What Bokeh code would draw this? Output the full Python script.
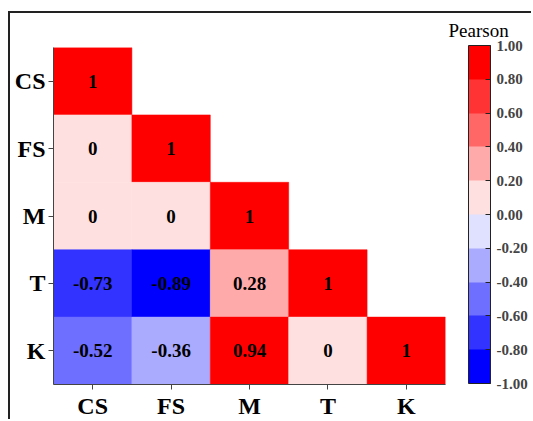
from bokeh.plotting import figure
from bokeh.models import ColumnDataSource, LinearColorMapper, ColorBar, FixedTicker, PrintfTickFormatter, Title
from bokeh.transform import transform
from bokeh.core.properties import value
from bokeh.embed import file_html
from bokeh.resources import INLINE

# Variables of the correlation matrix
variables = ["CS", "FS", "M", "T", "K"]

# Lower triangle of the Pearson correlation matrix, row by row
corr_rows = [
    [1],
    [0, 1],
    [0, 0, 1],
    [-0.73, -0.89, 0.28, 1],
    [-0.52, -0.36, 0.94, 0, 1],
]

# Colour bar ticks
bar_ticks = [-1.0, -0.8, -0.6, -0.4, -0.2, 0.0, 0.2, 0.4, 0.6, 0.8, 1.0]

# Ten discrete bins from -1 (blue) to 1 (red)
palette = ["#0000FF", "#3333FF", "#6E6EFF", "#AAAAFF", "#E0E0FF",
           "#FFE0E0", "#FFAAAA", "#FF6666", "#FF3333", "#FF0000"]

FONT = "Liberation Serif"


def fmt(v):
    return str(int(v)) if float(v).is_integer() else f"{v:.2f}"


xs, ys, rs, labels = [], [], [], []
for i, row in enumerate(corr_rows):
    for j, r in enumerate(row):
        xs.append(variables[j])
        ys.append(variables[i])
        rs.append(r)
        labels.append(fmt(r))

source = ColumnDataSource(dict(x=xs, y=ys, r=rs, label=labels))
mapper = LinearColorMapper(palette=palette, low=-1, high=1)

p = figure(
    width=523, height=408,
    x_range=variables, y_range=list(reversed(variables)),
    min_border_left=43, min_border_right=88,
    min_border_top=34, min_border_bottom=34,
    toolbar_location=None, output_backend="svg",
)
p.styles = {
    "margin-left": "8px", "margin-top": "11px",
    "border-left": "2px solid #222222", "border-top": "2px solid #222222",
}

p.rect(x="x", y="y", width=1, height=1, source=source,
       fill_color=transform("r", mapper), line_color=transform("r", mapper), line_width=0.5)
p.text(x="x", y="y", text="label", source=source,
       text_align="center", text_baseline="middle",
       text_font=value(FONT), text_font_style="bold", text_font_size="19px", text_color="black")

p.grid.grid_line_color = None
p.outline_line_color = None
p.background_fill_color = "white"
p.border_fill_color = "white"

for ax in (p.xaxis[0], p.yaxis[0]):
    ax.axis_line_color = "#444444"
    ax.major_tick_line_color = "#444444"
    ax.major_tick_out = 5
    ax.major_tick_in = 0
    ax.minor_tick_line_color = None
    ax.major_label_text_font = FONT
    ax.major_label_text_font_style = "bold"
    ax.major_label_text_font_size = "24px"
    ax.major_label_text_color = "black"
    ax.major_label_standoff = 3

cb = ColorBar(
    color_mapper=mapper,
    ticker=FixedTicker(ticks=bar_ticks),
    formatter=PrintfTickFormatter(format="%.2f"),
    width=22, height=338,
    padding=0,
    location=(415, 1),
    major_label_text_font=FONT, major_label_text_font_style="bold",
    major_label_text_font_size="15px",
    major_tick_in=5, major_tick_out=0, major_tick_line_color="#222222",
    label_standoff=6,
    bar_line_color="#222222", bar_line_width=1,
    background_fill_color=None, border_line_color=None,
)
p.add_layout(cb, "center")

# Colour bar heading, placed over the bar
p.add_layout(Title(
    text="Pearson", align="left", offset=395, standoff=10,
    vertical_align="top", text_line_height=0.6,
    text_font=FONT, text_font_style="normal", text_font_size="19px", text_color="black",
), "above")

open("out.html", "w").write(file_html(p, INLINE))
